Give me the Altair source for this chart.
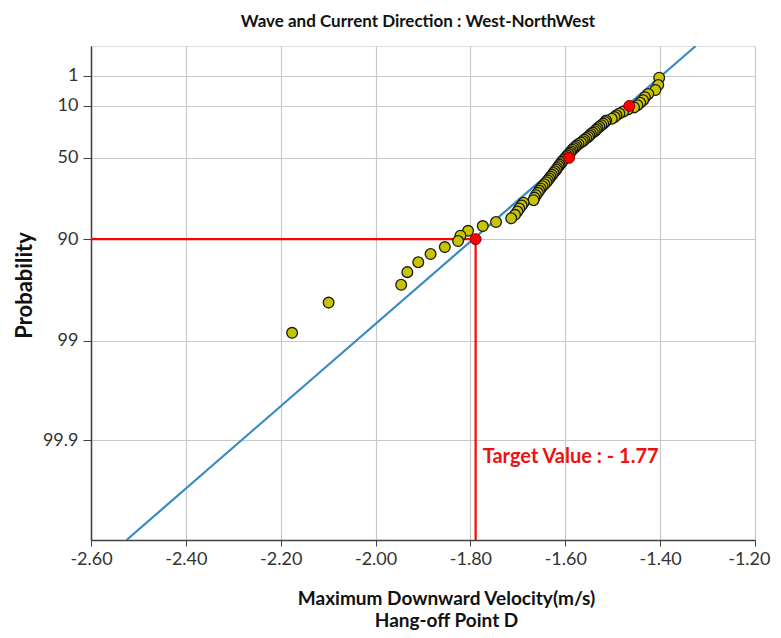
import math
import altair as alt
import pandas as pd

# ---------------- data ----------------
vel = [-1.402, -1.404, -1.410, -1.425, -1.432, -1.436, -1.442, -1.448, -1.455, -1.468,
       -1.478, -1.486, -1.492, -1.496, -1.502, -1.514, -1.516, -1.520, -1.524, -1.528,
       -1.532, -1.535, -1.538, -1.542, -1.546, -1.549, -1.552, -1.556, -1.560, -1.563,
       -1.567, -1.572, -1.576, -1.579, -1.582, -1.585, -1.588, -1.590, -1.593, -1.596,
       -1.598, -1.601, -1.604, -1.607, -1.609, -1.612, -1.614, -1.617, -1.619, -1.622,
       -1.625, -1.628, -1.631, -1.634, -1.637, -1.640, -1.644, -1.648, -1.652, -1.655,
       -1.658, -1.662, -1.665, -1.667, -1.688, -1.692, -1.697, -1.701, -1.706, -1.714,
       -1.746, -1.774, -1.805, -1.821, -1.826, -1.854, -1.884, -1.910, -1.933, -1.946,
       -2.099, -2.176]
prob = [1.2, 2.4, 3.6, 4.8, 6.0, 7.2, 8.4, 9.6, 10.8, 12.0,
        13.3, 14.5, 15.7, 16.9, 18.1, 19.3, 20.5, 21.7, 22.9, 24.1,
        25.3, 26.5, 27.7, 28.9, 30.1, 31.3, 32.5, 33.7, 34.9, 36.1,
        37.3, 38.6, 39.8, 41.0, 42.2, 43.4, 44.6, 45.8, 47.0, 48.2,
        49.4, 50.6, 51.8, 53.0, 54.2, 55.4, 56.6, 57.8, 59.0, 60.2,
        61.4, 62.7, 63.9, 65.1, 66.3, 67.5, 68.7, 69.9, 71.1, 72.3,
        73.5, 74.7, 75.9, 77.1, 78.3, 79.5, 80.7, 81.9, 83.1, 84.3,
        85.5, 86.7, 88.0, 89.2, 90.4, 91.6, 92.8, 94.0, 95.2, 96.4,
        97.6, 98.8]

red_vel = [-1.465, -1.592, -1.789]
red_prob = [10, 50, 90]

fit_vel = [-1.325, -2.525]
fit_prob = [0.01, 99.99]

target_vel = -1.789
target_prob = 90
target_label = "Target Value : - 1.77"
label_prob = 99.932

prob_ticks = [1, 10, 50, 90, 99, 99.9]
x_ticks = [-2.6, -2.4, -2.2, -2.0, -1.8, -1.6, -1.4, -1.2]
prob_min, prob_max = 0.01, 99.99


def gumbel(p):
    return -math.log(-math.log(p / 100.0))


G = "-log(-log(datum.p / 100))"

pts = pd.DataFrame({"v": vel, "p": prob})
reds = pd.DataFrame({"v": red_vel, "p": red_prob})
fit = pd.DataFrame({"v": fit_vel, "p": fit_prob})
rules = pd.DataFrame({
    "v": [x_ticks[0], target_vel],
    "v2": [target_vel, target_vel],
    "p": [target_prob, target_prob],
    "p2": [target_prob, prob_max],
})
lab = pd.DataFrame({"v": [target_vel], "p": [label_prob], "t": [target_label]})

FONT = "Lato"

xscale = alt.Scale(domain=[x_ticks[0], x_ticks[-1]], nice=False, zero=False)
yscale = alt.Scale(domain=[gumbel(prob_min), gumbel(prob_max)], reverse=True,
                   nice=False, zero=False)

last_tick = "datum.value > %f" % (x_ticks[-1] - 0.05)

xaxis = alt.Axis(
    values=x_ticks,
    labelExpr="(datum.value < 0 ? '-' : '') + format(abs(datum.value), '.2f')",
    labelFont=FONT, labelFontSize=18, labelColor="#333333", labelPadding=4,
    labelFlush=False, labelOverlap=False,
    labelAlign=alt.condition(last_tick, alt.value("right"), alt.value("center")),
    labelOffset=alt.condition(last_tick, alt.value(15), alt.value(0)),
    tickSize=6, tickColor="#404040", domainColor="#404040", domainWidth=1.5,
    grid=True, gridColor="#c8c8c8", gridWidth=1.2,
    title=["Maximum Downward Velocity(m/s)", "Hang-off Point D"],
    titleFont=FONT, titleFontSize=19, titleFontWeight="bold", titleColor="#111111",
    titleX=355, titleY=49, titleBaseline="top", titleAlign="center", titleLineHeight=22,
)
yaxis = alt.Axis(
    values=[gumbel(p) for p in prob_ticks],
    labelExpr="(round(exp(-exp(-datum.value)) * 1000) / 10 == 1) ? '1\u00a0\u00a0' : '' + round(exp(-exp(-datum.value)) * 1000) / 10",
    labelFont=FONT, labelFontSize=18, labelColor="#333333", labelPadding=5,
    labelOverlap=False,
    tickSize=8, tickColor="#404040", domainColor="#404040", domainWidth=1.5,
    grid=True, gridColor="#c8c8c8", gridWidth=1.2,
    title="Probability", titleFont=FONT, titleFontSize=22, titleFontWeight="bold",
    titleColor="#111111", titleX=-67, titleY=239, titleAngle=270,
    titleAlign="center", titleBaseline="middle",
)

base_x = alt.X("v:Q", scale=xscale, axis=xaxis)
base_y = alt.Y("g:Q", scale=yscale, axis=yaxis)

grid_layer = alt.Chart(fit).transform_calculate(g=G).mark_line(opacity=0).encode(
    x=base_x, y=base_y)

rule_layer = alt.Chart(rules).transform_calculate(
    g=G, g2="-log(-log(datum.p2 / 100))"
).mark_rule(color="#ff0000", strokeWidth=2.2).encode(
    x=alt.X("v:Q", scale=xscale), x2="v2:Q",
    y=alt.Y("g:Q", scale=yscale), y2="g2:Q")

fit_layer = alt.Chart(fit).transform_calculate(g=G).mark_line(
    color="#3a8bc2", strokeWidth=2.2, clip=True).encode(
    x=alt.X("v:Q", scale=xscale), y=alt.Y("g:Q", scale=yscale))

pt_layer = alt.Chart(pts).transform_calculate(g=G).mark_circle(
    size=115, color="#c8c400", stroke="#1a1a1a", strokeWidth=1.3, opacity=1).encode(
    x=alt.X("v:Q", scale=xscale), y=alt.Y("g:Q", scale=yscale))

red_layer = alt.Chart(reds).transform_calculate(g=G).mark_circle(
    size=120, color="#ff0000", stroke="#7a0000", strokeWidth=1.0, opacity=1).encode(
    x=alt.X("v:Q", scale=xscale), y=alt.Y("g:Q", scale=yscale))

text_layer = alt.Chart(lab).transform_calculate(g=G).mark_text(
    color="#ee1111", font=FONT, fontSize=20, fontWeight="bold",
    align="left", baseline="middle", dx=7).encode(
    x=alt.X("v:Q", scale=xscale), y=alt.Y("g:Q", scale=yscale), text="t:N")

chart = alt.layer(
    grid_layer, rule_layer, fit_layer, pt_layer, red_layer, text_layer
).properties(
    width=664, height=494,
    autosize=alt.AutoSizeParams(type="none"),
    padding={"left": 83, "top": 38, "right": 18, "bottom": 90},
    title=alt.TitleParams(
        text="Wave and Current Direction : West-NorthWest",
        font=FONT, fontSize=17, fontWeight="bold", color="#111111",
        anchor="middle", offset=15, dx=-5),
).configure_view(stroke="#404040", strokeWidth=1.5).configure(background="white")

chart.save("out.html", embed_options={"renderer": "svg", "actions": False})
